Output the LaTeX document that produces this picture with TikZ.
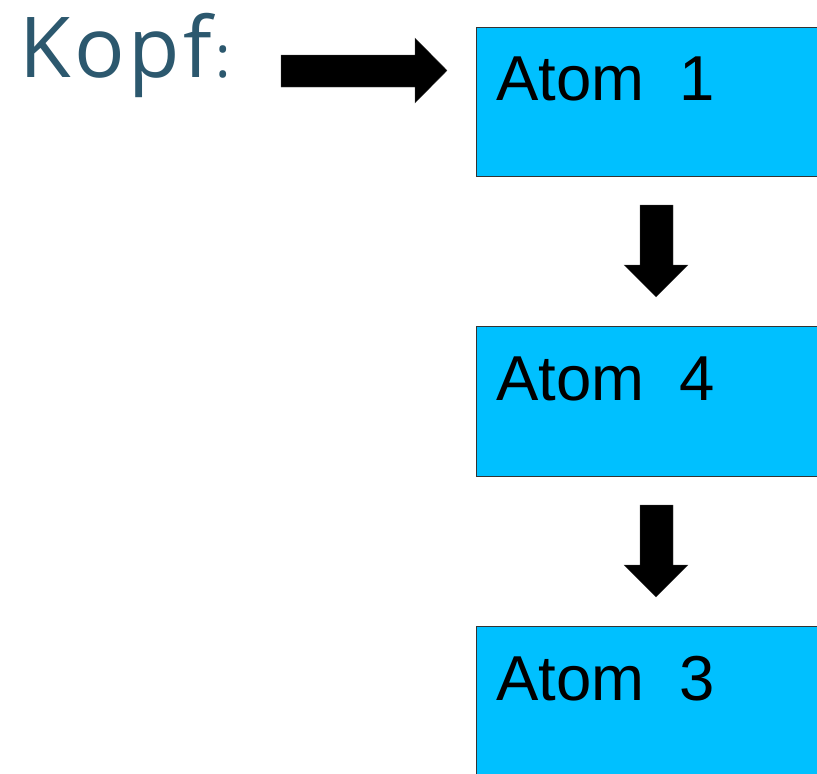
\documentclass[tikz,border=0pt]{standalone}
\usepackage{fontspec}
\setmainfont{Liberation Sans}
\newfontfamily\kopffont[LetterSpace=4]{Open Sans}
\definecolor{boxblue}{RGB}{0,192,255}
\definecolor{kopfcol}{RGB}{44,88,110}
\begin{document}
\begin{tikzpicture}[x=1pt,y=-1pt,
  atombox/.style={draw=black!80,line width=1pt,fill=boxblue,rectangle,anchor=north west,minimum width=420pt,minimum height=149.5pt,inner sep=0pt},
  atomtext/.style={anchor=base west,inner sep=0pt,font=\fontsize{63.5}{68}\selectfont},
  blockarrow/.style={fill=black,draw=black!70,line width=0.3pt}]
\useasboundingbox (0,0) rectangle (817,774);
\clip (0,0) rectangle (817,774);
\fill[white] (0,0) rectangle (817,774);
\node[anchor=base west,inner sep=0pt,text=kopfcol,font=\kopffont\fontsize{84}{90}\selectfont] (kopf) at (19,77) {Kopf\kern4pt\fontsize{58}{60}\selectfont:};
\node[atombox] (b1) at (476,26.5) {};
\node[atombox] (b2) at (476,326) {};
\node[atombox] (b3) at (476,626) {};
\node[atomtext] (t1) at (496,100) {Atom\ \ 1};
\node[atomtext] (t2) at (496,400) {Atom\ \ 4};
\node[atomtext] (t3) at (496,700) {Atom\ \ 3};
% right arrow
\path[blockarrow] (281,55) -- (415,55) -- (415,38) -- (447,70.5) -- (415,103) -- (415,87) -- (281,87) -- cycle;
% down arrows
\path[blockarrow] (640,205) -- (673,205) -- (673,265) -- (688,265) -- (656,297) -- (624,265) -- (640,265) -- cycle;
\path[blockarrow] (640,505) -- (673,505) -- (673,565) -- (688,565) -- (656,597) -- (624,565) -- (640,565) -- cycle;
\end{tikzpicture}
\end{document}
